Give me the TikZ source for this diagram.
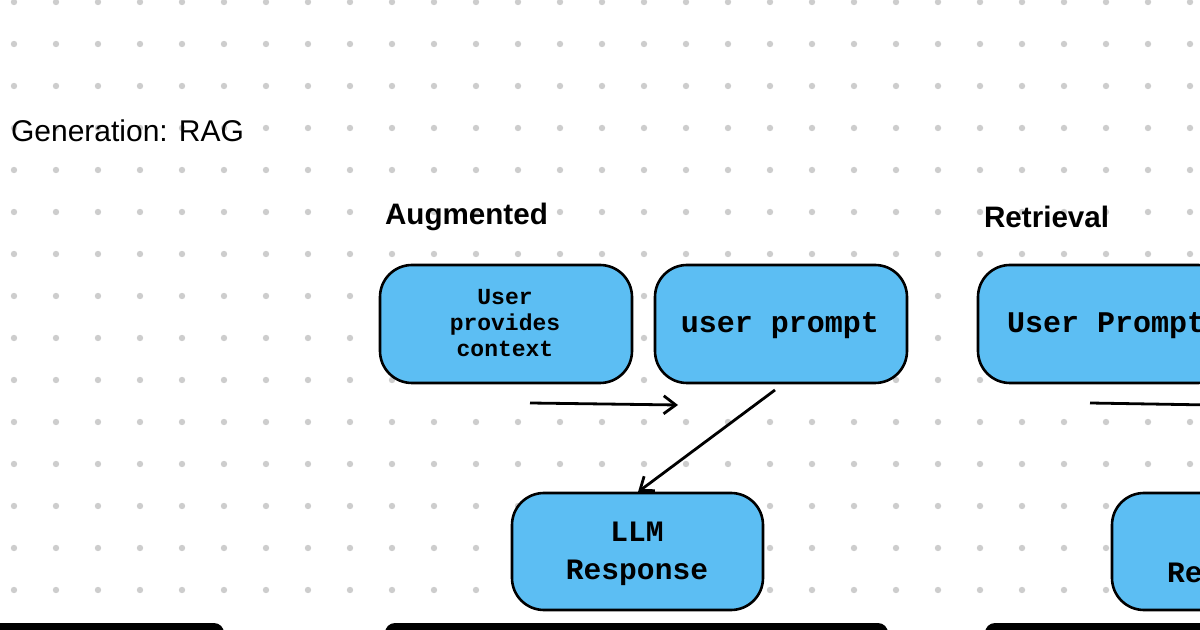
\documentclass[tikz,border=0pt]{standalone}
\usepackage{fontspec}
\setsansfont{Liberation Sans}
\setmonofont{Liberation Mono}
\usetikzlibrary{arrows.meta}
\definecolor{boxblue}{HTML}{5CBEF3}
\definecolor{dotgray}{HTML}{CDCDCD}
\tikzset{
  bx/.style={draw=black, line width=1.3pt, fill=boxblue, rounded corners=16pt},
  lbl/.style={anchor=west, font=\sffamily\bfseries\fontsize{14.8}{16}\selectfont},
  mono/.style={font=\ttfamily\bfseries, align=center},
  arr/.style={line width=1.4pt, -{Straight Barb[length=6pt,width=9pt]}},
  bar/.style={fill=black, rounded corners=5pt}
}
\begin{document}
\begin{tikzpicture}[x=0.5pt,y=-0.5pt]
\useasboundingbox (0,0) rectangle (1200,630);
\fill[white] (0,0) rectangle (1200,630);
\foreach \i in {0,...,28} \foreach \j in {0,...,14}
  \fill[dotgray] (14+42*\i,2+42*\j) circle (1.6pt);
\node[anchor=west, font=\sffamily\fontsize{15}{17}\selectfont] (title) at (4,131) {Generation: RAG};
\node[lbl] (aug) at (378,217) {Augmented};
\node[lbl] (ret) at (977,217) {Retrieval};
\draw[bx] (380,265) rectangle (632,383);
\node[mono, font=\ttfamily\bfseries\fontsize{11.5}{13}\selectfont] (ctx) at (505,323) {User\\provides\\context};
\draw[bx] (655,265) rectangle (907,383);
\node[mono, font=\ttfamily\bfseries\fontsize{15}{17}\selectfont] (up) at (780,326) {user prompt};
\draw[bx] (978,265) rectangle (1230,383);
\node[mono, anchor=west, font=\ttfamily\bfseries\fontsize{15}{17}\selectfont] (UP) at (1000,326) {User Prompt};
\draw[bx] (512,493) rectangle (763,610);
\node[mono, font=\ttfamily\bfseries\fontsize{14.8}{19}\selectfont] (llm) at (637,554) {LLM\\Response};
\draw[bx] (1112,493) rectangle (1260,610);
\node[mono, anchor=west, font=\ttfamily\bfseries\fontsize{14.8}{17}\selectfont] (re) at (1160,573) {Re};
\coordinate (a1) at (530,403); \coordinate (a2) at (678,405);
\draw[arr] (a1) -- (a2);
\coordinate (b1) at (775,390); \coordinate (b2) at (638,492);
\draw[arr] (b1) -- (b2);
\coordinate (c1) at (1090,403); \coordinate (c2) at (1210,405);
\draw[line width=1.4pt] (c1) -- (c2);
\fill[bar] (-20,623) rectangle (224,650);
\fill[bar] (385,623) rectangle (888,650);
\fill[bar] (985,623) rectangle (1230,650);
\end{tikzpicture}
\end{document}
